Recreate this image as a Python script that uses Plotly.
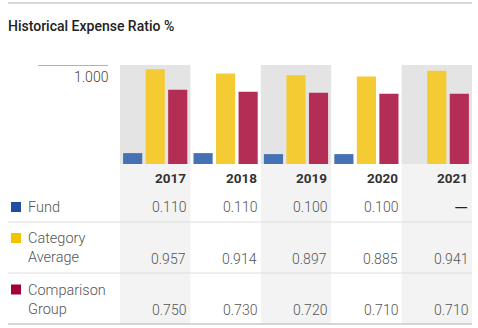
import plotly.graph_objects as go

# ---- data -------------------------------------------------------------
years = ["2017", "2018", "2019", "2020", "2021"]
series_names = ["Fund", "Category Average", "Comparison Group"]
fund = [0.110, 0.110, 0.100, 0.100, None]
category_avg = [0.957, 0.914, 0.897, 0.885, 0.941]
comparison = [0.750, 0.730, 0.720, 0.710, 0.710]
y_max_label = "1.000"

# ---- styling ----------------------------------------------------------
W, H = 478, 328
bar_colors = ["#4472b4", "#f4cb32", "#b32d55"]
key_colors = ["#1f4fa3", "#f5c400", "#a3003a"]
FONT = "Roboto, sans-serif"


def py(px):
    """pixel row -> paper y"""
    return 1 - px / H


def pxx(px):
    """pixel column -> paper x"""
    return px / W


plot_left, plot_right = 120, 472
chart_top, chart_bottom = 65, 164
table_bottom = 324

fig = go.Figure()
for name, vals, col in zip(series_names, [fund, category_avg, comparison], bar_colors):
    fig.add_trace(go.Bar(x=years, y=vals, name=name, marker=dict(color=col, line=dict(width=0)),
                         hoverinfo="skip"))

shapes = []
annotations = []

# alternating column bands (chart part darker, table part lighter)
for i in range(0, len(years), 2):
    shapes.append(dict(type="rect", xref="x", yref="paper", x0=i - 0.5, x1=i + 0.5,
                       y0=py(chart_bottom), y1=py(chart_top), fillcolor="#e4e4e4",
                       line=dict(width=0), layer="below"))
    shapes.append(dict(type="rect", xref="x", yref="paper", x0=i - 0.5, x1=i + 0.5,
                       y0=py(table_bottom), y1=py(chart_bottom), fillcolor="#f3f3f3",
                       line=dict(width=0), layer="below"))

# top rule and table separators
shapes.append(dict(type="line", xref="paper", yref="paper", x0=pxx(8), x1=pxx(472),
                   y0=py(3), y1=py(3), line=dict(color="#cccccc", width=1.5)))
for yy in (222, 273):
    shapes.append(dict(type="line", xref="paper", yref="paper", x0=pxx(8), x1=pxx(472),
                       y0=py(yy), y1=py(yy), line=dict(color="#dddddd", width=1)))
shapes.append(dict(type="line", xref="paper", yref="paper", x0=pxx(8), x1=pxx(472),
                   y0=py(324), y1=py(324), line=dict(color="#c8c8c8", width=1.5)))

# max-value rule on the left side of the axis
shapes.append(dict(type="line", xref="paper", yref="y", x0=pxx(38), x1=pxx(108),
                   y0=1, y1=1, line=dict(color="#666666", width=1.2)))
annotations.append(dict(text=y_max_label, xref="paper", yref="y", x=pxx(108), y=1,
                        xanchor="right", yanchor="top", yshift=-2, xshift=2, showarrow=False,
                        font=dict(family=FONT, size=14, weight=300, color="#444444")))

# title
annotations.append(dict(text="Historical Expense Ratio %", xref="paper", yref="paper",
                        x=pxx(8), y=py(26), xanchor="left", yanchor="middle", showarrow=False,
                        xshift=-2,
                        font=dict(family=FONT, size=14, weight=500, color="#222222")))

# year header row
for i, yr in enumerate(years):
    annotations.append(dict(text=yr, xref="x", yref="paper", x=i + 0.5, y=py(178),
                            xanchor="right", yanchor="middle", xshift=-2, showarrow=False,
                            font=dict(family=FONT, size=13.5, weight=700, color="#333333")))

# rows: key square, label, values
row_label_y = [207, 248.5, 300]
row_value_y = [207, 259, 310]
row_key_y = [207, 238, 289.5]
for name, vals, kc, ly, vy, ky in zip(series_names, [fund, category_avg, comparison],
                                      key_colors, row_label_y, row_value_y, row_key_y):
    shapes.append(dict(type="rect", xref="paper", yref="paper", x0=pxx(11), x1=pxx(21),
                       y0=py(ky + 5), y1=py(ky - 5), fillcolor=kc, line=dict(width=0)))
    label = name.replace(" ", "<br>")
    annotations.append(dict(text=label, xref="paper", yref="paper", x=pxx(26), y=py(ly),
                            xanchor="left", yanchor="middle", align="left", showarrow=False,
                            font=dict(family=FONT, size=14.5, weight=300, color="#555555")))
    for i, v in enumerate(vals):
        missing = v is None
        txt = "\u2014" if missing else f"{v:.3f}"
        annotations.append(dict(text=txt, xref="x", yref="paper", x=i + 0.5, y=py(vy),
                                xanchor="right", yanchor="middle", xshift=-2, showarrow=False,
                                font=dict(family=FONT, size=18 if missing else 14,
                                          weight=400 if missing else 300,
                                          color="#222222" if missing else "#555555")))

fig.update_layout(
    width=W, height=H,
    margin=dict(l=0, r=0, t=0, b=0),
    paper_bgcolor="white", plot_bgcolor="rgba(0,0,0,0)",
    barmode="group", bargap=0.04, bargroupgap=0.15,
    showlegend=False,
    xaxis=dict(domain=[pxx(plot_left), pxx(plot_right)], range=[-0.5, len(years) - 0.5],
               showticklabels=False, showgrid=False, zeroline=False, fixedrange=True),
    yaxis=dict(domain=[py(chart_bottom), py(chart_top)], range=[0, 1],
               tickvals=[1], showticklabels=False, showgrid=True, gridcolor="#666666",
               gridwidth=1.2, zeroline=False, fixedrange=True),
    shapes=shapes, annotations=annotations,
)

fig.write_html("out.html")
